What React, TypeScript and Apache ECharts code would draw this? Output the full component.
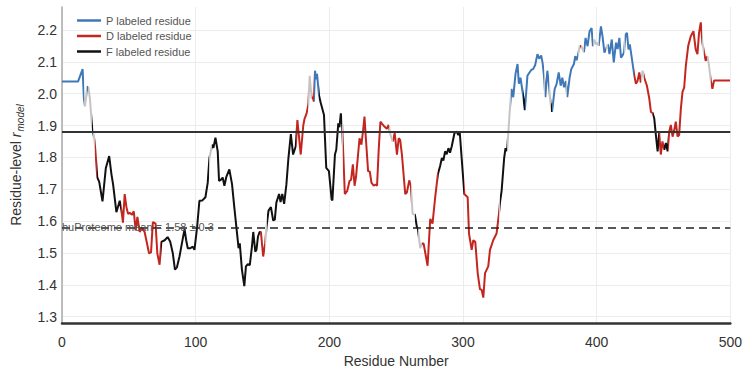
import React, { useEffect, useRef } from "react";
import * as echarts from "echarts";

// [residue number, residue-level r_model, label] ; label: P / D / F / U (unlabeled, grey)
const residueTrace: [number, number, string][] = [
  [0, 2.038, "P"], [12, 2.038, "P"], [15.4, 2.077, "P"], [16.4, 1.984, "P"], [17.2, 1.96, "U"],
  [18.9, 2.023, "U"], [19.8, 2.018, "P"], [20.9, 1.984, "U"], [22.4, 1.9, "U"], [23.3, 1.88, "F"],
  [24.4, 1.85, "U"], [25, 1.82, "D"], [26.4, 1.737, "D"], [27.8, 1.724, "F"], [30.3, 1.662, "F"],
  [32.8, 1.767, "F"], [35.3, 1.804, "F"], [37, 1.747, "F"], [38.2, 1.716, "F"], [40.7, 1.628, "F"],
  [43.2, 1.664, "F"], [44.5, 1.633, "F"], [45.6, 1.595, "D"], [46.9, 1.685, "D"], [48.2, 1.644, "D"],
  [49.4, 1.623, "D"], [50.7, 1.626, "D"], [52.5, 1.62, "D"], [53.7, 1.631, "D"], [55.1, 1.571, "D"],
  [56.4, 1.613, "D"], [58.1, 1.566, "D"], [59.8, 1.58, "D"], [61.8, 1.566, "D"], [63.6, 1.53, "D"],
  [65.1, 1.499, "D"], [66.6, 1.502, "D"], [68, 1.597, "D"], [70, 1.592, "D"], [71.3, 1.499, "D"],
  [73, 1.463, "D"], [74.3, 1.535, "D"], [76.8, 1.54, "F"], [79, 1.55, "F"], [81, 1.535, "F"],
  [82.9, 1.499, "F"], [84.5, 1.448, "F"], [86, 1.455, "F"], [87.9, 1.489, "F"], [89.9, 1.535, "F"],
  [91.7, 1.575, "F"], [92.9, 1.54, "F"], [94.1, 1.515, "F"], [96, 1.515, "F"], [97.8, 1.52, "F"],
  [99.1, 1.51, "F"], [101.1, 1.582, "F"], [102.8, 1.664, "F"], [105, 1.665, "F"], [107.3, 1.675, "F"],
  [109, 1.72, "F"], [110.3, 1.798, "F"], [112.3, 1.84, "U"], [113.3, 1.83, "F"], [114.8, 1.862, "F"],
  [116.5, 1.819, "F"], [117.5, 1.726, "F"], [119, 1.73, "F"], [120.2, 1.737, "F"], [121.5, 1.711, "F"],
  [123, 1.74, "F"], [125.2, 1.762, "F"], [127.2, 1.716, "F"], [128.9, 1.644, "F"], [130.6, 1.576, "F"],
  [132.1, 1.515, "F"], [133, 1.53, "F"], [134.6, 1.448, "F"], [136.4, 1.396, "F"], [137.6, 1.458, "F"],
  [139, 1.465, "F"], [140.5, 1.462, "F"], [142.1, 1.52, "F"], [143.1, 1.566, "F"], [144.6, 1.504, "F"],
  [145.5, 1.51, "F"], [146.6, 1.551, "F"], [147.8, 1.566, "F"], [148.8, 1.566, "D"], [150.5, 1.489, "D"],
  [152, 1.53, "D"], [153, 1.582, "U"], [154.5, 1.633, "F"], [156.3, 1.644, "F"], [158, 1.602, "F"],
  [159.2, 1.605, "F"], [160.4, 1.659, "F"], [162.4, 1.685, "F"], [163.5, 1.66, "F"], [164.8, 1.685, "F"],
  [166.2, 1.654, "F"], [167.9, 1.716, "F"], [169.4, 1.798, "F"], [171.2, 1.873, "F"], [172.9, 1.809, "F"],
  [174.9, 1.835, "F"], [176.1, 1.917, "D"], [178.6, 1.809, "D"], [180.5, 1.9, "D"], [181.5, 1.922, "D"],
  [183, 1.938, "D"], [184.3, 1.966, "D"], [185.3, 2.056, "U"], [186.8, 1.984, "U"], [187.6, 1.99, "D"],
  [188.4, 1.975, "D"], [189.3, 2.072, "P"], [190.1, 2.045, "P"], [190.8, 2.062, "P"], [192.3, 1.994, "P"],
  [193.5, 1.972, "F"], [196, 1.933, "F"], [197.7, 1.767, "F"], [199.7, 1.757, "F"], [201.7, 1.669, "F"],
  [202.3, 1.665, "F"], [204.2, 1.809, "F"], [205.2, 1.824, "F"], [206.7, 1.907, "F"], [207.6, 1.895, "F"],
  [208.6, 1.938, "F"], [209.6, 1.902, "F"], [210.4, 1.814, "U"], [211.6, 1.685, "D"], [213.4, 1.695, "D"],
  [215.1, 1.726, "D"], [216.3, 1.73, "D"], [217.6, 1.778, "D"], [218.9, 1.711, "D"], [220, 1.74, "D"],
  [221.5, 1.809, "D"], [222.6, 1.86, "D"], [224, 1.84, "D"], [225.3, 1.886, "D"], [226.3, 1.928, "D"],
  [227.5, 1.85, "D"], [229, 1.757, "D"], [230.3, 1.755, "D"], [231.5, 1.721, "D"], [233.2, 1.711, "D"],
  [234.5, 1.715, "D"], [235.7, 1.711, "D"], [237, 1.829, "D"], [238.2, 1.912, "D"], [239.5, 1.905, "D"],
  [241.4, 1.896, "D"], [243, 1.89, "D"], [244.4, 1.902, "D"], [245.8, 1.87, "U"], [247.4, 1.85, "U"],
  [248.9, 1.876, "D"], [250.6, 1.809, "D"], [251.9, 1.86, "D"], [253, 1.855, "D"], [254.3, 1.809, "D"],
  [256.8, 1.685, "D"], [258, 1.69, "D"], [259.8, 1.728, "D"], [261, 1.71, "D"], [262.3, 1.623, "U"],
  [264, 1.62, "U"], [265.5, 1.582, "F"], [266.3, 1.575, "F"], [268, 1.515, "U"], [269.3, 1.53, "U"],
  [270.5, 1.53, "D"], [271.8, 1.5, "D"], [273.5, 1.46, "D"], [275.5, 1.607, "D"], [277.2, 1.592, "D"],
  [279.2, 1.675, "D"], [281.2, 1.747, "D"], [282.9, 1.773, "F"], [284.2, 1.798, "F"], [285.3, 1.79, "F"],
  [286.6, 1.819, "F"], [287.8, 1.81, "F"], [289.1, 1.829, "F"], [290.3, 1.815, "F"], [291.6, 1.835, "F"],
  [293.6, 1.876, "F"], [295.3, 1.881, "F"], [296.5, 1.87, "F"], [297.6, 1.878, "F"], [299, 1.798, "F"],
  [301, 1.685, "F"], [303.5, 1.675, "D"], [304.5, 1.561, "D"], [306.5, 1.51, "D"], [307.7, 1.54, "D"],
  [309.2, 1.535, "D"], [311, 1.437, "D"], [312.7, 1.386, "D"], [313.9, 1.385, "D"], [315.2, 1.36, "D"],
  [316.5, 1.437, "D"], [318.9, 1.458, "D"], [320.2, 1.51, "D"], [322.6, 1.54, "D"], [325.1, 1.561, "D"],
  [326.9, 1.623, "D"], [327.7, 1.66, "U"], [328.9, 1.695, "F"], [330.8, 1.798, "F"], [331.8, 1.829, "F"],
  [333, 1.82, "F"], [335.1, 1.953, "U"], [336.3, 2.015, "U"], [337.6, 1.989, "P"], [339.3, 2.062, "P"],
  [340.8, 2.093, "P"], [341.8, 2.031, "P"], [343, 2.05, "P"], [345, 1.994, "P"], [346.3, 1.948, "F"],
  [348.2, 2.056, "P"], [349.5, 2.065, "P"], [351.2, 2.075, "P"], [352.5, 2.077, "P"], [354, 2.09, "P"],
  [355.7, 2.124, "P"], [357, 2.11, "P"], [358.5, 2.12, "P"], [359.6, 2.095, "P"], [360.6, 2.056, "P"],
  [361.6, 1.989, "U"], [363.1, 2.072, "P"], [364.1, 2.036, "P"], [365.5, 1.97, "U"], [366.6, 1.943, "F"],
  [368.6, 2.015, "P"], [370, 2.03, "P"], [371.6, 2.067, "P"], [373.1, 2.025, "P"], [374.3, 2.05, "P"],
  [375.6, 2.02, "P"], [377, 2.04, "P"], [378, 1.989, "U"], [379.8, 2.051, "P"], [381, 2.077, "P"],
  [383, 2.093, "P"], [384, 2.118, "P"], [385, 2.105, "P"], [386, 2.12, "P"], [387.3, 2.149, "U"],
  [388.5, 2.15, "D"], [390.5, 2.13, "U"], [391.7, 2.175, "P"], [393.2, 2.149, "P"], [394.7, 2.196, "P"],
  [396.2, 2.206, "P"], [397.2, 2.149, "P"], [398.2, 2.17, "U"], [399.5, 2.155, "U"], [400.5, 2.16, "U"],
  [401.5, 2.15, "U"], [403.2, 2.211, "P"], [404.4, 2.18, "P"], [405.8, 2.129, "P"], [407, 2.14, "P"],
  [408.3, 2.155, "U"], [409.6, 2.124, "P"], [411.3, 2.17, "P"], [412.8, 2.098, "P"], [414.5, 2.16, "P"],
  [415.7, 2.14, "P"], [417, 2.175, "P"], [418.2, 2.113, "P"], [419.4, 2.12, "P"], [420.5, 2.13, "P"],
  [421.5, 2.185, "U"], [422.7, 2.191, "P"], [423.8, 2.139, "P"], [424.8, 2.155, "P"], [425.7, 2.129, "P"],
  [428.2, 2.056, "P"], [429.4, 2.031, "D"], [430.6, 2.04, "D"], [431.9, 2.067, "D"], [433, 2.035, "D"],
  [434.4, 2.072, "U"], [435.6, 2.05, "U"], [437.6, 2.025, "D"], [439.4, 1.984, "D"], [440.6, 1.943, "D"],
  [441.8, 1.94, "D"], [443.1, 1.922, "F"], [444.3, 1.871, "F"], [445.6, 1.819, "F"], [446.8, 1.876, "F"],
  [448, 1.809, "D"], [449.2, 1.85, "D"], [450.6, 1.824, "D"], [451.8, 1.845, "F"], [453.1, 1.819, "F"],
  [454.3, 1.881, "D"], [455.5, 1.902, "D"], [456.8, 1.865, "D"], [458, 1.885, "D"], [459.2, 1.912, "D"],
  [460.5, 1.866, "D"], [461.7, 1.87, "D"], [463, 1.953, "D"], [464.2, 2.005, "D"], [465.5, 2.02, "D"],
  [466.7, 2.087, "D"], [468.5, 2.15, "D"], [470.4, 2.18, "D"], [472.4, 2.196, "D"], [474.1, 2.139, "D"],
  [475.4, 2.124, "D"], [476.6, 2.191, "D"], [477.9, 2.224, "D"], [479.1, 2.16, "D"], [480.3, 2.13, "U"],
  [481.6, 2.103, "D"], [482.9, 2.118, "D"], [484, 2.09, "U"], [485.4, 2.041, "U"], [486.6, 2.015, "D"],
  [487.8, 2.041, "D"], [500, 2.041, "D"],
];

const labelColors: Record<string, string> = { U: "#c4c4c4", P: "#3f78b9", D: "#c4261f", F: "#111111" };
const legendKeys = ["P", "D", "F"];
const legendNames = ["P labeled residue", "D labeled residue", "F labeled residue"];
const yTickValues = [1.3, 1.4, 1.5, 1.6, 1.7, 1.8, 1.9, 2.0, 2.1, 2.2];
const proteomeMean = 1.58;
const proteomeSd = 0.3;
const thresholdValue = 1.88;

// colour pieces along residue axis: segment i-1 -> i takes label of point i
function buildPieces() {
  const pieces: any[] = [];
  for (let i = 1; i < residueTrace.length; i++) {
    const lab = residueTrace[i][2];
    const x0 = residueTrace[i - 1][0];
    const x1 = residueTrace[i][0];
    const last = pieces[pieces.length - 1];
    if (last && last.lab === lab) {
      last.lte = x1;
    } else {
      pieces.push({ lab, gt: x0, lte: x1 });
    }
  }
  return pieces.map((p, idx) => {
    const o: any = { color: labelColors[p.lab], lte: p.lte };
    if (idx === 0) o.gte = -1;
    else o.gt = p.gt;
    return o;
  });
}

export default function App() {
  const ref = useRef<HTMLDivElement>(null);
  useEffect(() => {
    if (!ref.current) return;
    const chart = echarts.init(ref.current, null, { renderer: "svg" });
    const font = "Liberation Sans, Arial, sans-serif";
    const series: any[] = [
      {
        name: "residue trace",
        type: "line",
        data: residueTrace.map((d) => [d[0], d[1]]),
        showSymbol: false,
        symbol: "none",
        lineStyle: { width: 2 },
        z: 3,
        markLine: {
          silent: true,
          symbol: "none",
          label: { show: false },
          data: [
            { yAxis: thresholdValue, lineStyle: { color: "#333", width: 2, type: "solid" } },
            { yAxis: proteomeMean, lineStyle: { color: "#222", width: 1.6, type: [8, 5] } },
          ],
        },
      },
      ...legendKeys.map((k, i) => ({
        name: legendNames[i],
        type: "line",
        data: [],
        symbol: "none",
        lineStyle: { color: labelColors[k], width: 2 },
        itemStyle: { color: labelColors[k] },
      })),
    ];
    chart.setOption({
      animation: false,
      grid: { left: 62, right: 12, top: 7, bottom: 45 },
      visualMap: {
        show: false,
        type: "piecewise",
        dimension: 0,
        seriesIndex: 0,
        pieces: buildPieces(),
      },
      legend: {
        data: legendNames,
        orient: "vertical",
        left: 72,
        top: 9,
        itemWidth: 24,
        itemHeight: 2.5,
        itemGap: 2.5,
        icon: "rect",
        textStyle: { fontFamily: font, fontSize: 11, color: "#555", lineHeight: 13 },
      },
      xAxis: {
        type: "value",
        min: 0,
        max: 500,
        interval: 100,
        name: "Residue Number",
        nameLocation: "middle",
        nameGap: 29,
        nameTextStyle: { fontFamily: font, fontSize: 14, color: "#333" },
        axisLine: { show: true, lineStyle: { color: "#333", width: 2.5 } },
        axisTick: { show: false },
        axisLabel: { fontFamily: font, fontSize: 14, color: "#333", margin: 12 },
        splitLine: { show: true, lineStyle: { color: "#ececec", width: 1 } },
      },
      yAxis: {
        type: "value",
        min: 1.28,
        max: 2.272,
        name: "{a|Residue-level }{i|r}{s|model}",
        nameLocation: "middle",
        nameGap: 37,
        nameTextStyle: {
          rich: {
            a: { fontFamily: font, fontSize: 14, color: "#333", lineHeight: 18, verticalAlign: "middle" },
            i: { fontFamily: font, fontSize: 14, color: "#333", fontStyle: "italic", lineHeight: 18, verticalAlign: "middle" },
            s: { fontFamily: font, fontSize: 10, color: "#333", fontStyle: "italic", lineHeight: 10, verticalAlign: "bottom", padding: [6, 0, 0, 1] },
          },
        },
        axisLine: { show: true, lineStyle: { color: "#aaa", width: 1.5 } },
        axisTick: { show: false, customValues: yTickValues },
        axisLabel: {
          fontFamily: font,
          fontSize: 14,
          color: "#333",
          margin: 5,
          customValues: yTickValues,
          formatter: (v: number) => v.toFixed(1),
        },
        splitLine: { show: true, lineStyle: { color: "#ececec", width: 1 } },
      },
      graphic: [
        {
          type: "text",
          left: 62,
          top: 221,
          silent: true,
          style: {
            text: `huProteome mean = ${proteomeMean.toFixed(2)} ± ${proteomeSd}`,
            fontFamily: font,
            fontSize: 11,
            fill: "#555",
          },
          z: 10,
        },
      ],
      series,
    });
    return () => chart.dispose();
  }, []);
  return <div ref={ref} style={{ width: 745, height: 373, position: "absolute", left: 0, top: 0 }} />;
}
